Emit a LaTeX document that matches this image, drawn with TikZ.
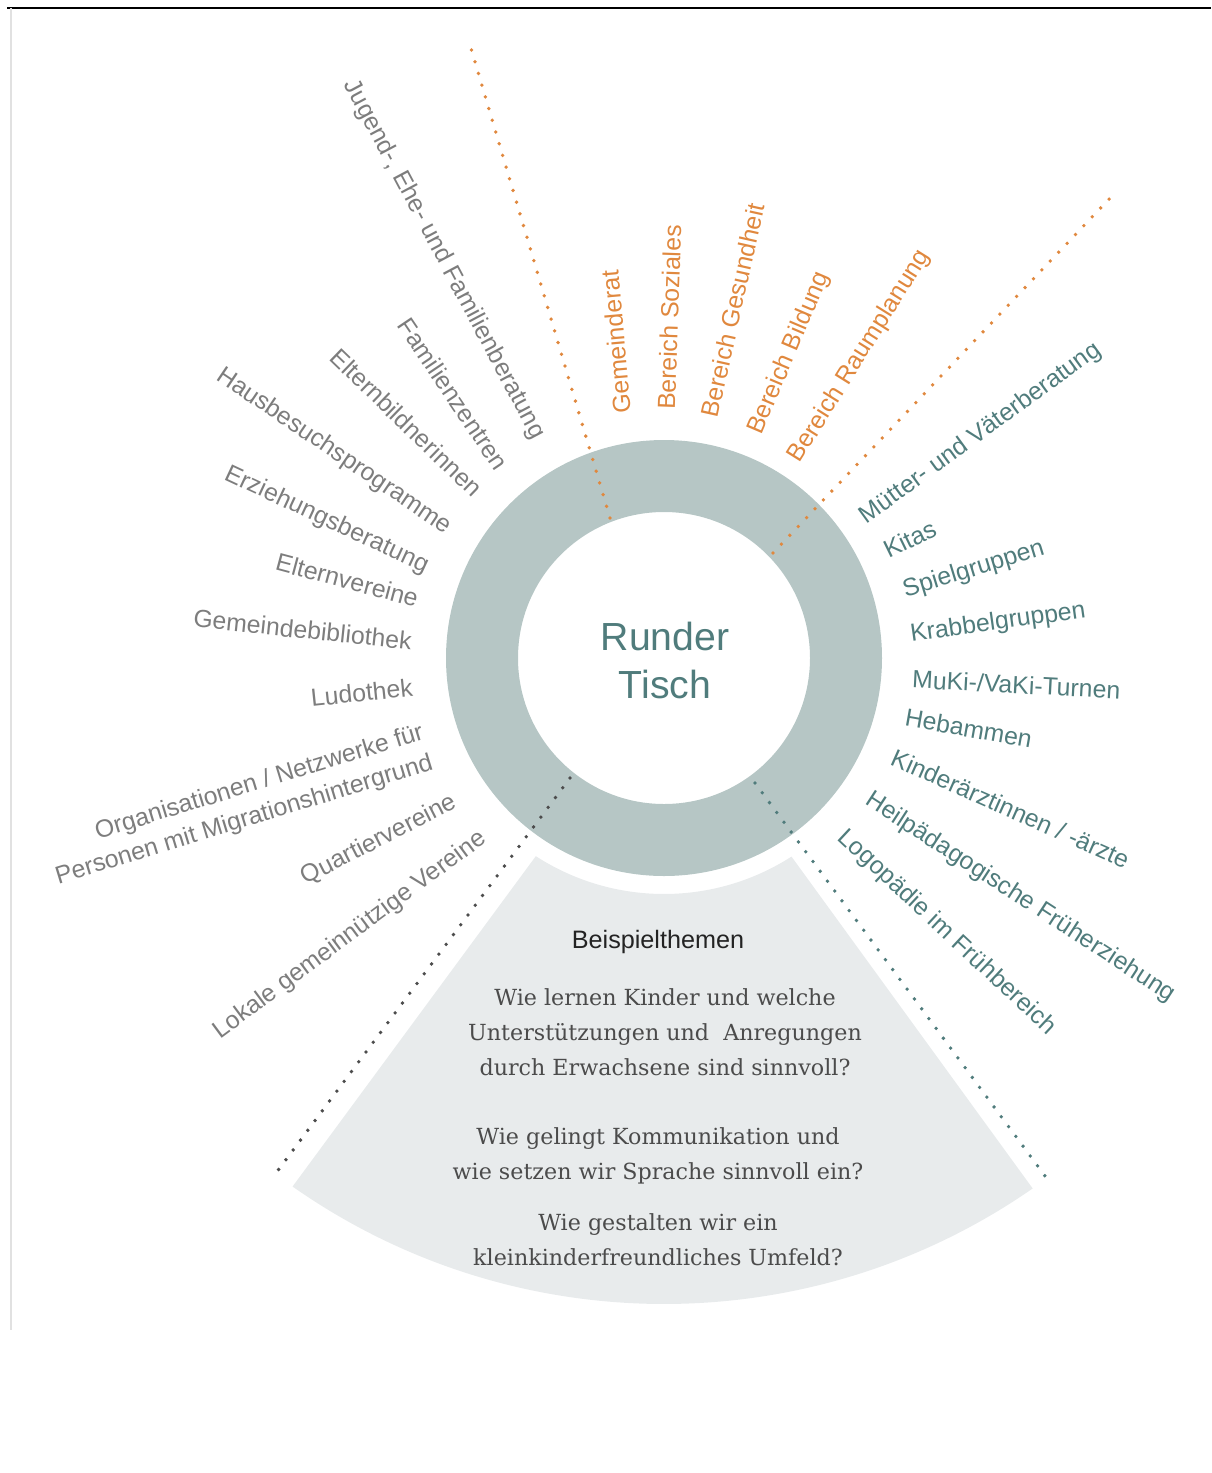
\documentclass[tikz,border=0pt]{standalone}
\usepackage{fontspec}
\setmainfont{Liberation Sans}
\newfontfamily\qfont{DejaVu Serif}
\usetikzlibrary{calc}
\definecolor{ringc}{RGB}{182,198,197}
\definecolor{fanc}{RGB}{232,235,236}
\definecolor{orng}{RGB}{224,136,62}
\definecolor{tealt}{RGB}{80,124,124}
\definecolor{grayt}{RGB}{125,125,125}
\definecolor{qtext}{RGB}{75,75,75}
\definecolor{headc}{RGB}{35,35,35}
\definecolor{framel}{RGB}{225,225,225}
\begin{document}
\begin{tikzpicture}[x=0.5pt,y=-0.5pt,
  lbl/.style={inner sep=0pt, font=\fontsize{12.4}{14}\selectfont, text height=1.5ex, text depth=0pt},
  lgray/.style={lbl, text=grayt, anchor=east},
  lgraytwo/.style={inner sep=0pt, font=\fontsize{12.4}{15.8}\selectfont, text=grayt, anchor=east, align=right},
  lteal/.style={lbl, text=tealt, anchor=west},
  lorange/.style={lbl, text=orng, anchor=west},
  dotline/.style={line width=1.9pt, line cap=round, dash pattern=on 0pt off 6.1pt},
  qnode/.style={align=center, text=qtext, font=\qfont\fontsize{11.1}{17.5}\selectfont, inner sep=0pt},
]
\useasboundingbox (0,0) rectangle (1211,1473);
% frame lines
\coordinate (tl) at (7,7.5);
\coordinate (tr) at (1211,7.5);
\coordinate (lt) at (10.5,8);
\coordinate (lb) at (10.5,1330);
\draw[line width=1pt, black] (tl) -- (tr);
\draw[line width=1pt, framel] (lt) -- (lb);

\coordinate (c) at (664,658);
% fan
\fill[fanc] ($(c)+(122.9:236)$) -- ($(c)+(125.1:646)$)
  arc[start angle=125.1, end angle=55.2, radius=646]
  -- ($(c)+(57.3:236)$)
  arc[start angle=57.3, end angle=122.9, radius=236] -- cycle;
% ring
\fill[ringc, even odd rule] (c) circle[radius=218] (c) circle[radius=146];

% dotted lines
\coordinate (oa1) at (610,518); \coordinate (oa2) at (470,45);
\coordinate (ob1) at (773,553); \coordinate (ob2) at (1112,196);
\coordinate (ga1) at (570,778); \coordinate (ga2) at (276,1173);
\coordinate (ta1) at (755,783); \coordinate (ta2) at (1048,1180);
\draw[dotline, orng] (oa1) -- (oa2);
\draw[dotline, orng] (ob1) -- (ob2);
\draw[dotline, black!70] (ga1) -- (ga2);
\draw[dotline, tealt] (ta1) -- (ta2);

% center
\node[align=center, text=tealt, font=\fontsize{19.6}{24}\selectfont, inner sep=0pt] (rt) at (665,660) {Runder\\Tisch};

% left labels
\node[lgray, rotate=-62] (l1) at (540,437) {Jugend-, Ehe- und Familienberatung};
\node[lgray, rotate=-56] (l2) at (502,468) {Familienzentren};
\node[lgray, rotate=-44] (l3) at (478,493) {Elternbildnerinnen};
\node[lgray, rotate=-34] (l4) at (450,528) {Hausbesuchsprogramme};
\node[lgray, rotate=-25] (l5) at (428,566) {Erziehungsberatung};
\node[lgray, rotate=-15] (l6) at (418,600) {Elternvereine};
\node[lgray, rotate=-6] (l7) at (412,642) {Gemeindebibliothek};
\node[lgray, rotate=6] (l8) at (413,688) {Ludothek};
\node[lgraytwo, rotate=17] (l9) at (428,748) {Organisationen / Netzwerke für\\Personen mit Migrationshintergrund};
\node[lgray, rotate=27] (l10) at (455,800) {Quartiervereine};
\node[lgray, rotate=36.5] (l11) at (483,835) {Lokale gemeinnützige Vereine};

% right labels
\node[lteal, rotate=36] (r1) at (862,518) {Mütter- und Väterberatung};
\node[lteal, rotate=26] (r2) at (885,552) {Kitas};
\node[lteal, rotate=17] (r3) at (903,590) {Spielgruppen};
\node[lteal, rotate=8] (r4) at (910,634) {Krabbelgruppen};
\node[lteal, rotate=-3] (r5) at (912,680) {MuKi-/VaKi-Turnen};
\node[lteal, rotate=-10] (r6) at (905,718) {Hebammen};
\node[lteal, rotate=-24] (r7) at (892,757) {Kinderärztinnen / -ärzte};
\node[lteal, rotate=-33] (r8) at (868,797) {Heilpädagogische Früherziehung};
\node[lteal, rotate=-43] (r9) at (842,833) {Logopädie im Frühbereich};

% top labels
\node[lorange, rotate=95] (o1) at (623,414) {Gemeinderat};
\node[lorange, rotate=88] (o2) at (667,410) {Bereich Soziales};
\node[lorange, rotate=77.5] (o3) at (710,417) {Bereich Gesundheit};
\node[lorange, rotate=67] (o4) at (754,433) {Bereich Bildung};
\node[lorange, rotate=58] (o5) at (793,460) {Bereich Raumplanung};

% bottom texts
\node[text=headc, font=\fontsize{12.6}{14}\selectfont, inner sep=0pt] (bt) at (658,942) {Beispielthemen};
\node[qnode] (q1) at (665,1032) {Wie lernen Kinder und welche\\Unterstützungen und \ Anregungen\\durch Erwachsene sind sinnvoll?};
\node[qnode] (q2) at (658,1156) {Wie gelingt Kommunikation und\\wie setzen wir Sprache sinnvoll ein?};
\node[qnode] (q3) at (658,1240) {Wie gestalten wir ein\\kleinkinderfreundliches Umfeld?};
\end{tikzpicture}
\end{document}
